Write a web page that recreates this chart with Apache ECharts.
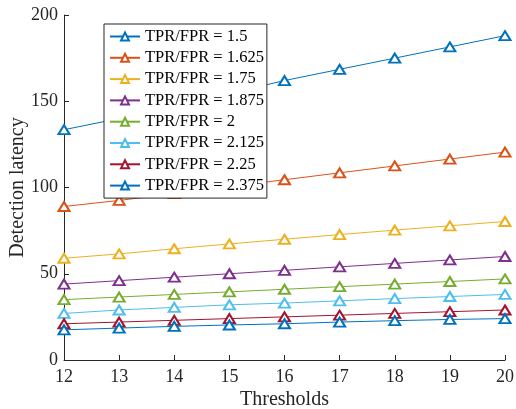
<!DOCTYPE html>
<html><head><meta charset="utf-8">
<script src="https://cdn.jsdelivr.net/npm/echarts@6/dist/echarts.min.js"></script>
<style>html,body{margin:0;padding:0;background:#fff}#c{width:516px;height:409px}</style>
</head><body><div id="c"></div>
<script>
const thresholds = [12, 13, 14, 15, 16, 17, 18, 19, 20];
const seriesNames = ['TPR/FPR = 1.5','TPR/FPR = 1.625','TPR/FPR = 1.75','TPR/FPR = 1.875','TPR/FPR = 2','TPR/FPR = 2.125','TPR/FPR = 2.25','TPR/FPR = 2.375'];
const r1500 = [133.5, 140, 147, 154.5, 162, 168.5, 175, 181.5, 188];
const r1625 = [89, 92.5, 96.5, 100.5, 104.5, 108.5, 112.5, 116.5, 120.5];
const r1750 = [59, 61.5, 64.5, 67.3, 70, 72.7, 75.3, 77.8, 80.3];
const r1875 = [44, 46, 48, 50, 52, 54, 56, 58, 60];
const r2000 = [35, 36.5, 38, 39.5, 41, 42.5, 44, 45.5, 47];
const r2125 = [27, 29, 30.5, 32, 33, 34.3, 35.6, 36.8, 38];
const r2250 = [21, 22, 23, 24, 25, 26, 27, 28, 29];
const r2375 = [17.5, 18.5, 19.5, 20.3, 21, 22, 22.8, 23.5, 24];
const yTicks = [0, 50, 100, 150, 200];
const colors = ['#0072BD','#D95319','#EDB120','#7E2F8E','#77AC30','#4DBEEE','#A2142F','#0072BD'];
const allData = [r1500, r1625, r1750, r1875, r2000, r2125, r2250, r2375];

const font = 'Liberation Serif';
const chart = echarts.init(document.getElementById('c'));
chart.setOption({
  animation: false,
  color: colors,
  grid: {left: 64, right: 11, top: 15, bottom: 49, containLabel: false, outerBoundsMode: 'none'},
  legend: {
    orient: 'vertical', left: 104, top: 24,
    backgroundColor: '#fff', borderColor: '#262626', borderWidth: 1,
    padding: [4, 3, 4, 5], itemWidth: 30, itemHeight: 10, itemGap: 4.3,
    textStyle: {fontFamily: font, fontSize: 16.5, lineHeight: 15, color: '#000'},
    data: seriesNames
  },
  xAxis: {
    type: 'value', min: 12, max: 20, interval: 1,
    name: 'Thresholds', nameLocation: 'middle', nameGap: 30, nameMoveOverlap: false,
    nameTextStyle: {fontFamily: font, fontSize: 20, color: '#262626'},
    axisLine: {lineStyle: {color: '#262626'}},
    axisTick: {inside: true, length: 5, lineStyle: {color: '#262626'}},
    axisLabel: {fontFamily: font, fontSize: 18, color: '#262626', margin: 8},
    splitLine: {show: false}
  },
  yAxis: {
    type: 'value', min: yTicks[0], max: yTicks[yTicks.length-1], interval: 50,
    name: 'Detection latency', nameLocation: 'middle', nameGap: 36, nameMoveOverlap: false,
    nameTextStyle: {fontFamily: font, fontSize: 20, color: '#262626'},
    axisLine: {show: true, lineStyle: {color: '#262626'}},
    axisTick: {show: true, inside: true, length: 5, lineStyle: {color: '#262626'}},
    axisLabel: {fontFamily: font, fontSize: 18, color: '#262626', margin: 6},
    splitLine: {show: false}
  },
  series: allData.map((d, i) => ({
    name: seriesNames[i], type: 'line',
    data: d.map((v, j) => [thresholds[j], v]),
    symbol: 'emptyTriangle', symbolSize: [11, 9],
    lineStyle: {width: 1, color: colors[i]},
    itemStyle: {color: colors[i], borderWidth: 0.6}
  }))
});
</script></body></html>
